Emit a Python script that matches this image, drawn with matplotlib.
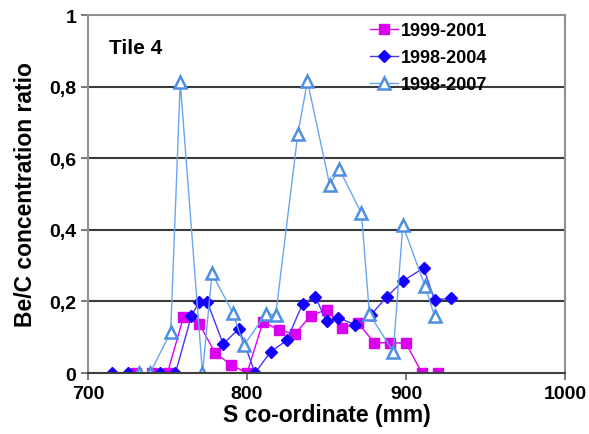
import matplotlib.pyplot as plt
import numpy as np

plt.rcParams['font.family'] = ['Liberation Sans', 'DejaVu Sans']
plt.rcParams['font.weight'] = 'bold'

# 1999-2001 (squares)
s_2001 = [730, 740, 750, 760, 770, 780, 790, 800, 810, 820, 830, 840, 850,
          860, 870, 880, 890, 900, 910, 920]
r_2001 = [0, 0, 0, 0.156, 0.137, 0.056, 0.023, 0, 0.142, 0.121, 0.108, 0.16,
          0.177, 0.126, 0.14, 0.084, 0.085, 0.083, 0, 0]

# 1998-2004 (diamonds)
s_2004 = [715, 725, 745, 755, 765, 770, 775, 785, 795, 805, 815, 825, 835,
          843, 850, 857, 868, 878, 888, 898, 911, 918, 928]
r_2004 = [0, 0, 0, 0, 0.159, 0.199, 0.199, 0.081, 0.124, 0, 0.06, 0.091,
          0.194, 0.213, 0.144, 0.155, 0.135, 0.163, 0.213, 0.257, 0.293,
          0.204, 0.209]

# 1998-2007 (open triangles)
s_2007 = [732, 739, 752, 758, 772, 778, 791, 798, 812, 818, 832, 838, 852,
          858, 872, 877, 892, 898, 912, 918]
r_2007 = [0, 0, 0.114, 0.812, 0, 0.278, 0.169, 0.077, 0.166, 0.161, 0.669,
          0.815, 0.526, 0.57, 0.446, 0.164, 0.06, 0.413, 0.242, 0.159]

y_ticks = [0, 0.2, 0.4, 0.6, 0.8, 1.0]
y_tick_labels = ['0', '0,2', '0,4', '0,6', '0,8', '1']
x_ticks = [700, 800, 900, 1000]

fig = plt.figure(figsize=(5.89, 4.35), dpi=100)
ax = fig.add_axes([0.1494, 0.1402, 0.8099, 0.823])

ax.plot(s_2001, r_2001, color='#DA00F0', lw=1.0, marker='s', ms=7,
        mfc='#DA00F0', mec='#DA00F0', label='1999-2001')
ax.plot(s_2004, r_2004, color='#4A35F5', lw=1.0, marker='D', ms=6,
        mfc='#1400FF', mec='#1400FF', label='1998-2004')
ax.plot(s_2007, r_2007, color='#6AA6EE', lw=1.0, marker='^', ms=8,
        mfc='white', mec='#4D8FE0', mew=1.8, label='1998-2007')

ax.set_xlim(700, 1000)
ax.set_ylim(0, 1)
ax.set_xticks(x_ticks)
ax.set_yticks(y_ticks)
ax.set_yticklabels(y_tick_labels)
ax.tick_params(axis='both', labelsize=14, direction='out', length=5,
               color='#606060', width=1.2)

# horizontal gridlines only
for y in y_ticks[1:-1]:
    ax.axhline(y, color='#3a3a3a', lw=1.5, zorder=0)

for side in ['top', 'right', 'left']:
    ax.spines[side].set_color('#909090')
    ax.spines[side].set_linewidth(1.5)
ax.spines['bottom'].set_color('#404040')
ax.spines['bottom'].set_linewidth(1.5)

ax.set_xlabel('S co-ordinate (mm)', fontsize=16.5, fontweight='bold', labelpad=1)
ax.set_ylabel('Be/C concentration ratio', fontsize=16.5, fontweight='bold', labelpad=9)

ax.text(0.044, 0.91, 'Tile 4', transform=ax.transAxes, fontsize=15,
        fontweight='bold', va='center', ha='left')

ax.legend(loc='upper left', bbox_to_anchor=(0.577, 1.0), frameon=False,
          fontsize=13, handlelength=1.5, handletextpad=0.2,
          labelspacing=0.55, borderaxespad=0.0)

plt.savefig('out.png', dpi=100)
